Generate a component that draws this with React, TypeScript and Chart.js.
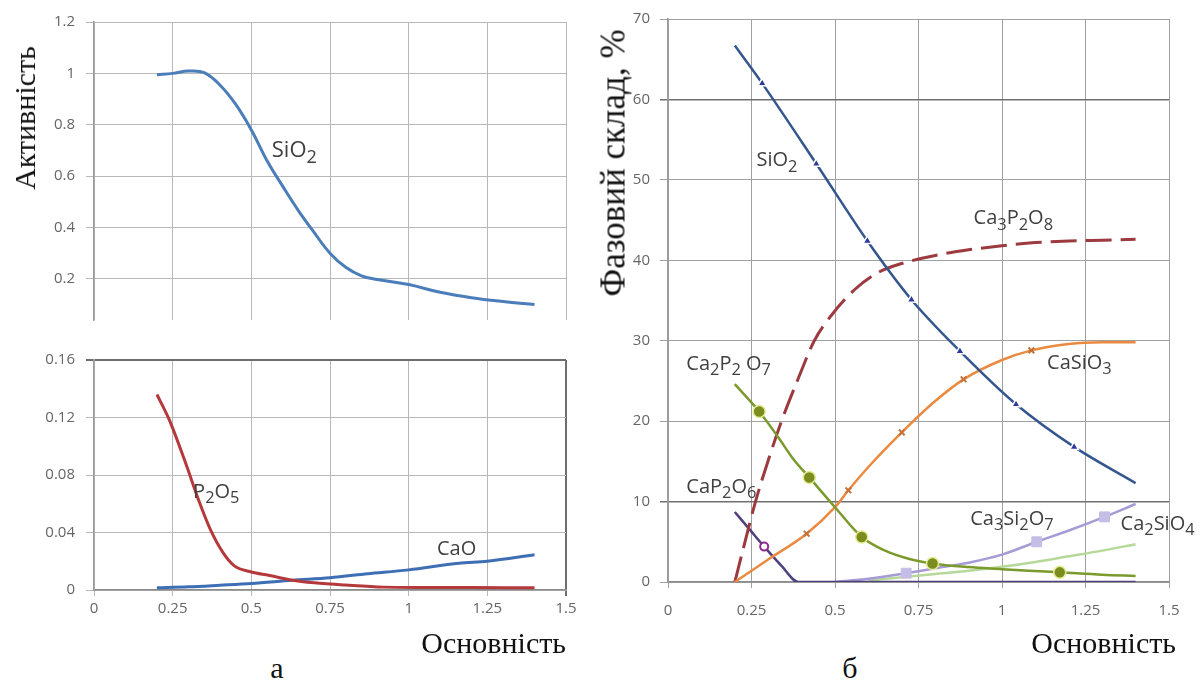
import React, { useEffect, useRef } from "react";
import { Chart, registerables } from "chart.js";
Chart.register(...registerables);

// ---------- shared tick values ----------
const basicityTicks = [0, 0.25, 0.5, 0.75, 1, 1.25, 1.5];
const activityTicks = [0.2, 0.4, 0.6, 0.8, 1, 1.2];
const lowActivityTicks = [0, 0.04, 0.08, 0.12, 0.16];
const phaseTicks = [0, 10, 20, 30, 40, 50, 60, 70];

// ---------- panel а, top: SiO2 activity ----------
const sio2ActX = [0.2, 0.25, 0.3, 0.35, 0.4, 0.45, 0.5, 0.55, 0.6, 0.65, 0.7, 0.75, 0.8, 0.85, 0.9, 1.0, 1.1, 1.2, 1.3, 1.4];
const sio2ActY = [0.995, 1.0, 1.009, 1.003, 0.955, 0.88, 0.78, 0.66, 0.56, 0.465, 0.38, 0.3, 0.245, 0.212, 0.198, 0.178, 0.148, 0.127, 0.112, 0.1];

// ---------- panel а, bottom: P2O5 and CaO activity ----------
const p2o5ActX = [0.2, 0.24, 0.29, 0.335, 0.37, 0.41, 0.445, 0.5, 0.555, 0.63, 0.7, 0.8, 0.92, 1.05, 1.2, 1.4];
const p2o5ActY = [0.136, 0.118, 0.089, 0.061, 0.042, 0.026, 0.017, 0.0125, 0.0102, 0.0068, 0.005, 0.0034, 0.002, 0.0018, 0.0017, 0.0016];
const caoActX = [0.2, 0.3, 0.4, 0.5, 0.63, 0.75, 0.87, 1.0, 1.16, 1.25, 1.4];
const caoActY = [0.0016, 0.0022, 0.0033, 0.0045, 0.0068, 0.0086, 0.0113, 0.014, 0.0186, 0.02, 0.0245];

// ---------- panel б: phase composition, % ----------
const sio2PhX = [0.2, 0.282, 0.444, 0.597, 0.729, 0.874, 1.042, 1.216, 1.4];
const sio2PhY = [66.7, 62.0, 52.0, 42.4, 35.1, 28.7, 22.1, 16.8, 12.3];
const sio2PhMarks = [1, 2, 3, 4, 5, 6, 7];

const ca3p2o8X = [0.2, 0.23, 0.262, 0.3, 0.34, 0.39, 0.438, 0.49, 0.56, 0.63, 0.7, 0.8, 0.9, 1.0, 1.1, 1.2, 1.3, 1.4];
const ca3p2o8Y = [0, 4.9, 10, 15.1, 20, 25.3, 30, 33.2, 36.4, 38.5, 39.6, 40.6, 41.3, 41.8, 42.2, 42.4, 42.5, 42.6];

const casio3X = [0.2, 0.3, 0.415, 0.5, 0.54, 0.6, 0.7, 0.8, 0.885, 1.0, 1.088, 1.2, 1.3, 1.4];
const casio3Y = [0, 2.8, 6.0, 9.3, 11.4, 14.3, 18.6, 22.5, 25.2, 27.6, 28.8, 29.6, 29.8, 29.8];
const casio3Marks = [2, 4, 6, 8, 10];

const ca2p2o7X = [0.2, 0.273, 0.33, 0.375, 0.423, 0.5, 0.58, 0.65, 0.72, 0.792, 0.9, 1.0, 1.08, 1.173, 1.3, 1.4];
const ca2p2o7Y = [24.6, 21.2, 18.0, 15.3, 13.0, 9.3, 5.6, 3.9, 2.9, 2.3, 1.85, 1.6, 1.4, 1.2, 0.9, 0.75];
const ca2p2o7Marks = [1, 4, 6, 9, 13];

const cap2o6X = [0.2, 0.243, 0.288, 0.34, 0.39, 0.6, 0.9, 1.2, 1.4];
const cap2o6Y = [8.7, 6.6, 4.4, 2.0, 0, 0, 0, 0, 0];
const cap2o6Marks = [2];

const ca3si2o7X = [0.5, 0.6, 0.713, 0.8, 0.9, 1.0, 1.104, 1.2, 1.307, 1.4];
const ca3si2o7Y = [0, 0.4, 1.1, 1.7, 2.4, 3.4, 5.0, 6.4, 8.1, 9.7];
const ca3si2o7Marks = [2, 6, 8];

const ca2sio4X = [0.6, 0.7, 0.8, 0.9, 1.0, 1.1, 1.2, 1.3, 1.4];
const ca2sio4Y = [0.2, 0.6, 1.0, 1.4, 1.9, 2.5, 3.2, 3.9, 4.7];

// ---------- in-plot labels (odd parts are subscripts) ----------
const labelsTop = [{ parts: ["SiO", "2"], x: 0.565, y: 0.7 }];
const labelsBottom = [
  { parts: ["P", "2", "O", "5"], x: 0.315, y: 0.068 },
  { parts: ["CaO"], x: 1.09, y: 0.028 },
];
const labelsPhase = [
  { parts: ["SiO", "2"], x: 0.265, y: 52.4 },
  { parts: ["Ca", "3", "P", "2", "O", "8"], x: 0.915, y: 45.2 },
  { parts: ["CaSiO", "3"], x: 1.135, y: 27.2 },
  { parts: ["Ca", "2", "P", "2", " O", "7"], x: 0.055, y: 27.1 },
  { parts: ["CaP", "2", "O", "6"], x: 0.055, y: 11.8 },
  { parts: ["Ca", "3", "Si", "2", "O", "7"], x: 0.905, y: 7.8 },
  { parts: ["Ca", "2", "SiO", "4"], x: 1.355, y: 7.2 },
];

const LABEL_FONT = '"Open Sans", "DejaVu Sans", sans-serif';
const SERIF = '"Liberation Serif", "DejaVu Serif", serif';

const inlineLabels = {
  id: "inlineLabels",
  afterDatasetsDraw(chart: any, _args: any, opts: any) {
    const items = opts.items || [];
    const ctx = chart.ctx;
    const size = opts.size || 16;
    ctx.save();
    ctx.fillStyle = opts.color || "#404040";
    ctx.textBaseline = "middle";
    ctx.textAlign = "left";
    for (const it of items) {
      let px = chart.scales.x.getPixelForValue(it.x);
      const py = chart.scales.y.getPixelForValue(it.y);
      it.parts.forEach((p: string, i: number) => {
        const sub = i % 2 === 1;
        const s = sub ? size * 0.82 : size;
        ctx.font = `${s}px ${LABEL_FONT}`;
        ctx.fillText(p, px, py + (sub ? size * 0.32 : 0));
        px += ctx.measureText(p).width;
      });
    }
    ctx.restore();
  },
};

const pts = (xs: number[], ys: number[]) => xs.map((x, i) => ({ x, y: ys[i] }));
const fmt = (v: number) => String(+Number(v).toFixed(2));
const marked = (marks: number[], r: number) => (ctx: any) => (marks.includes(ctx.dataIndex) ? r : 0);

function xScale(showTicks: boolean, height: number, gridColor: any, gridWidth: any, padding: number) {
  return {
    type: "linear",
    min: 0,
    max: 1.5,
    afterBuildTicks: (s: any) => {
      s.ticks = basicityTicks.map((v) => ({ value: v }));
    },
    afterFit: (s: any) => {
      s.height = height;
    },
    ticks: {
      display: showTicks,
      autoSkip: false,
      maxRotation: 0,
      padding,
      color: "#666666",
      font: { family: LABEL_FONT, size: 15 },
      callback: (v: any) => fmt(v),
    },
    grid: { color: gridColor, lineWidth: gridWidth, drawTicks: showTicks, tickLength: 6 },
    border: { display: showTicks, color: "#8a8a8a", width: 1.5 },
  };
}

function yScale(min: number, max: number, ticks: number[], width: number, gridColor: any, gridWidth: any, padding: number) {
  return {
    type: "linear",
    min,
    max,
    afterBuildTicks: (s: any) => {
      s.ticks = ticks.map((v) => ({ value: v }));
    },
    afterFit: (s: any) => {
      s.width = width;
    },
    ticks: {
      autoSkip: false,
      padding,
      color: "#666666",
      font: { family: LABEL_FONT, size: 15 },
      callback: (v: any) => fmt(v),
    },
    grid: { color: gridColor, lineWidth: gridWidth, tickLength: 8 },
    border: { color: "#9a9a9a", width: 1.5 },
  };
}

const smooth = { cubicInterpolationMode: "default", tension: 0.4, fill: false, pointHoverRadius: 0 };
const mono = { cubicInterpolationMode: "monotone", fill: false, pointHoverRadius: 0 };

export default function App() {
  const refA = useRef<HTMLCanvasElement>(null);
  const refB = useRef<HTMLCanvasElement>(null);
  const refC = useRef<HTMLCanvasElement>(null);

  useEffect(() => {
    const common = { type: "line", plugins: [inlineLabels] };
    const baseOpts = { animation: false, responsive: false, events: [] };

    const chartA = new Chart(refA.current as any, {
      ...common,
      data: {
        datasets: [
          { ...smooth, data: pts(sio2ActX, sio2ActY), borderColor: "#4a7dba", borderWidth: 3, pointRadius: 0 },
        ],
      },
      options: {
        ...baseOpts,
        layout: { padding: { top: 22, right: 34, bottom: 7, left: 0 } },
        plugins: {
          legend: { display: false },
          tooltip: { enabled: false },
          inlineLabels: { items: labelsTop, size: 22 },
        },
        scales: {
          x: xScale(false, 0, "#b8b8b8", 1, 0),
          y: yScale(0.04, 1.2, activityTicks, 94, "#b8b8b8", 1, 11),
        },
      },
    } as any);

    const chartB = new Chart(refB.current as any, {
      ...common,
      data: {
        datasets: [
          { ...mono, data: pts(p2o5ActX, p2o5ActY), borderColor: "#b5393b", borderWidth: 3, pointRadius: 0 },
          { ...mono, data: pts(caoActX, caoActY), borderColor: "#3e6fb5", borderWidth: 3, pointRadius: 0 },
        ],
      },
      options: {
        ...baseOpts,
        layout: { padding: { top: 18, right: 34, bottom: 8, left: 0 } },
        plugins: {
          legend: { display: false },
          tooltip: { enabled: false },
          inlineLabels: { items: labelsBottom, size: 20 },
        },
        scales: {
          x: xScale(
            true,
            32,
            (c: any) => (c.tick && c.tick.value === 1.5 ? "#6e6e6e" : "#b8b8b8"),
            (c: any) => (c.tick && c.tick.value === 1.5 ? 2 : 1),
            4
          ),
          y: yScale(
            0,
            0.16,
            lowActivityTicks,
            94,
            (c: any) => (c.tick && c.tick.value === 0.16 ? "#6e6e6e" : "#b8b8b8"),
            (c: any) => (c.tick && c.tick.value === 0.16 ? 2 : 1),
            11
          ),
        },
      },
    } as any);

    const chartC = new Chart(refC.current as any, {
      ...common,
      data: {
        datasets: [
          {
            ...mono,
            data: pts(sio2PhX, sio2PhY),
            borderColor: "#34568f",
            borderWidth: 2.5,
            pointStyle: "triangle",
            pointRadius: marked(sio2PhMarks, 5),
            pointBackgroundColor: "#2a3aa0",
            pointBorderColor: "#ffffff",
            pointBorderWidth: 1.5,
          },
          {
            ...mono,
            data: pts(ca2p2o7X, ca2p2o7Y),
            borderColor: "#7b9a2c",
            borderWidth: 2.5,
            pointStyle: "circle",
            pointRadius: marked(ca2p2o7Marks, 6),
            pointBackgroundColor: "#7a8d1e",
            pointBorderColor: "#e4ec92",
            pointBorderWidth: 1.5,
          },
          {
            ...mono,
            data: pts(casio3X, casio3Y),
            borderColor: "#ea8a40",
            borderWidth: 2.5,
            pointStyle: "crossRot",
            pointRadius: marked(casio3Marks, 4),
            pointBorderColor: "#c4713a",
            pointBorderWidth: 2,
          },
          {
            ...mono,
            data: pts(ca3p2o8X, ca3p2o8Y),
            borderColor: "#9c3a40",
            borderWidth: 3,
            borderDash: [26, 9],
            pointRadius: 0,
          },
          {
            ...mono,
            data: pts(cap2o6X, cap2o6Y),
            borderColor: "#4e3f7e",
            borderWidth: 2.5,
            pointStyle: "circle",
            pointRadius: marked(cap2o6Marks, 4),
            pointBackgroundColor: "#ffffff",
            pointBorderColor: "#8e2a8e",
            pointBorderWidth: 2,
          },
          {
            ...mono,
            data: pts(ca3si2o7X, ca3si2o7Y),
            borderColor: "#a69bd6",
            borderWidth: 2.5,
            pointStyle: "rect",
            pointRadius: marked(ca3si2o7Marks, 7),
            pointBackgroundColor: "#c4bde6",
            pointBorderColor: "#c4bde6",
            pointBorderWidth: 1,
          },
          { ...mono, data: pts(ca2sio4X, ca2sio4Y), borderColor: "#b6d99a", borderWidth: 2.5, pointRadius: 0 },
        ],
      },
      options: {
        ...baseOpts,
        layout: { padding: { top: 15, right: 31, bottom: 8, left: 0 } },
        plugins: {
          legend: { display: false },
          tooltip: { enabled: false },
          inlineLabels: { items: labelsPhase, size: 20 },
        },
        scales: {
          x: xScale(true, 40, "#a0a0a0", 1, 14),
          y: yScale(
            0,
            70,
            phaseTicks,
            68,
            (c: any) => (c.tick && (c.tick.value === 60 || c.tick.value === 10) ? "#707070" : "#a0a0a0"),
            (c: any) => (c.tick && (c.tick.value === 60 || c.tick.value === 10) ? 1.5 : 1),
            10
          ),
        },
      },
    } as any);

    return () => {
      chartA.destroy();
      chartB.destroy();
      chartC.destroy();
    };
  }, []);

  const serifText: React.CSSProperties = {
    position: "absolute",
    fontFamily: SERIF,
    color: "#111",
    whiteSpace: "nowrap",
    lineHeight: 1,
  };

  return (
    <div
      style={{
        position: "absolute",
        left: 0,
        top: 0,
        width: 1200,
        height: 681,
        background: "#ffffff",
        overflow: "hidden",
      }}
    >
      <canvas ref={refA} width={600} height={340} style={{ position: "absolute", left: 0, top: 0, width: 600, height: 340 }} />
      <canvas ref={refB} width={600} height={290} style={{ position: "absolute", left: 0, top: 340, width: 600, height: 290 }} />
      <canvas ref={refC} width={600} height={630} style={{ position: "absolute", left: 600, top: 0, width: 600, height: 630 }} />

      <div style={{ ...serifText, fontSize: 30, left: 25, top: 118, transform: "translate(-50%, -50%) rotate(-90deg)" }}>Активність</div>
      <div style={{ ...serifText, fontSize: 35, left: 613, top: 163, transform: "translate(-50%, -50%) rotate(-90deg)" }}>Фазовий склад, %</div>
      <div style={{ ...serifText, fontSize: 30, right: 1200 - 566, top: 628 }}>Основність</div>
      <div style={{ ...serifText, fontSize: 30, right: 1200 - 1176, top: 628 }}>Основність</div>
      <div style={{ ...serifText, fontSize: 30, left: 277, top: 668, transform: "translate(-50%, -50%)" }}>а</div>
      <div style={{ ...serifText, fontSize: 30, left: 850, top: 668, transform: "translate(-50%, -50%)" }}>б</div>
    </div>
  );
}
